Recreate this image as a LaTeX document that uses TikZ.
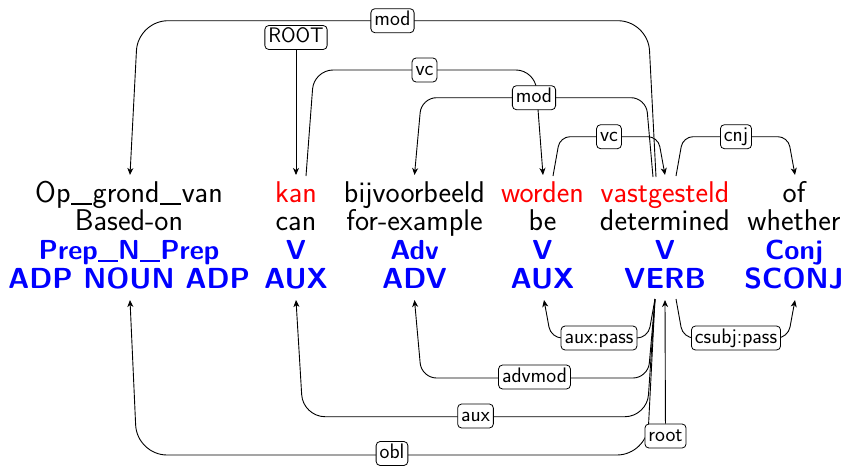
\documentclass[tikz,border=0pt]{standalone}
\usetikzlibrary{arrows.meta}
\definecolor{wred}{RGB}{255,0,0}
\definecolor{wblue}{RGB}{0,0,255}
\newcommand\usc{\kern0.02em\rule[-0.1em]{0.7em}{0.075em}\kern0.02em}
\begin{document}
\begin{tikzpicture}[x=1pt,y=-1pt,
  rowa/.style={font=\sffamily\fontsize{30}{31}\selectfont, inner sep=0pt, anchor=base},
  rowb/.style={font=\sffamily\fontsize{30}{31}\selectfont, inner sep=0pt, anchor=base},
  rowc/.style={font=\sffamily\bfseries\fontsize{27.5}{29}\selectfont, text=wblue, inner sep=0pt, anchor=base},
  rowd/.style={font=\sffamily\bfseries\fontsize{29}{31}\selectfont, text=wblue, inner sep=0pt, anchor=base},
  edge/.style={draw, line width=0.9pt},
  arr/.style={-{Stealth[length=7pt,width=6pt,inset=2pt]}},
  lab/.style={draw, fill=white, rounded corners=4pt, line width=0.8pt,
    font=\sffamily\fontsize{21}{23}\selectfont, inner xsep=3.5pt, inner ysep=2.5pt,
    text height=14.5pt, text depth=4.5pt}]
\useasboundingbox (0,0) rectangle (847,466);

% words
\node[rowa] (op1) at (129,202) {Op\usc grond\usc van};
\node[rowb] (op2) at (129,230.5) {Based-on};
\node[rowc] (op3) at (129,259) {Prep\usc N\usc Prep};
\node[rowd] (op4) at (129,288) {ADP NOUN ADP};

\node[rowa, text=wred] (kan1) at (296,202) {kan};
\node[rowb] (kan2) at (296,230.5) {can};
\node[rowc] (kan3) at (296,259) {V};
\node[rowd] (kan4) at (296,288) {AUX};

\node[rowa] (bij1) at (414.5,202) {bijvoorbeeld};
\node[rowb] (bij2) at (414.5,230.5) {for-example};
\node[rowc] (bij3) at (414.5,259) {Adv};
\node[rowd] (bij4) at (414.5,288) {ADV};

\node[rowa, text=wred] (wor1) at (542.5,202) {worden};
\node[rowb] (wor2) at (542.5,230.5) {be};
\node[rowc] (wor3) at (542.5,259) {V};
\node[rowd] (wor4) at (542.5,288) {AUX};

\node[rowa, text=wred] (vas1) at (665,202) {vastgesteld};
\node[rowb] (vas2) at (665,230.5) {determined};
\node[rowc] (vas3) at (665,259) {V};
\node[rowd] (vas4) at (665,288) {VERB};

\node[rowa] (of1) at (794,202) {of};
\node[rowb] (of2) at (794,230.5) {whether};
\node[rowc] (of3) at (794,259) {Conj};
\node[rowd] (of4) at (794,288) {SCONJ};

% anchor points above / below the words
\coordinate (opT) at (130,175);
\coordinate (kanT) at (296,175);
\coordinate (kanS) at (306,176);
\coordinate (bijT) at (414.5,175);
\coordinate (worT) at (543,175);
\coordinate (worS) at (553,176);
\coordinate (vasT) at (665,175);
\coordinate (vasSa) at (656,177);
\coordinate (vasSb) at (653,177);
\coordinate (vasSr) at (676,176);
\coordinate (ofT) at (795,175);

\coordinate (opB) at (130,300);
\coordinate (kanB) at (296,300);
\coordinate (bijB) at (414.5,300);
\coordinate (worB) at (544,300);
\coordinate (vasB) at (665,300);
\coordinate (vasBl) at (655,299);
\coordinate (vasBr) at (676,299);
\coordinate (ofB) at (795,300);

% top edges
\draw[edge,arr,rounded corners=30pt] (vasSa) -- (648,20.7) -- (138,20.7) -- (opT);
\draw[edge,arr,rounded corners=19pt] (kanS) -- (314,70) -- (535,70) -- (worT);
\draw[edge,arr,rounded corners=15pt] (vasSb) -- (646,97.7) -- (421.5,97.7) -- (bijT);
\draw[edge,arr,rounded corners=10pt] (worS) -- (560,136.7) -- (658,136.7) -- (vasT);
\draw[edge,arr,rounded corners=10pt] (vasSr) -- (683,136.7) -- (788,136.7) -- (ofT);

% bottom edges
\draw[edge,arr,rounded corners=11pt] (vasBl) -- (648,338) -- (551,338) -- (worB);
\draw[edge,arr,rounded corners=11pt] (vasBr) -- (683,338) -- (788,338) -- (ofB);
\draw[edge,arr,rounded corners=15pt] (vasBl) -- (648,378) -- (421.5,378) -- (bijB);
\draw[edge,arr,rounded corners=22pt] (vasBl) -- (647,416.7) -- (303,416.7) -- (kanB);
\draw[edge,arr,rounded corners=30pt] (vasBl) -- (647,455) -- (137,455) -- (opB);

% labels
\node[lab] (lmodA) at (392.5,20.7) {mod};
\node[lab] (lROOT) at (296,37.5) {ROOT};
\node[lab] (lvcA) at (424.5,70) {vc};
\node[lab] (lmodB) at (534,97.7) {mod};
\node[lab] (lvcB) at (609,136.7) {vc};
\node[lab] (lcnj) at (736,136.7) {cnj};
\node[lab] (lauxpass) at (599,338) {aux:pass};
\node[lab] (lcsubj) at (736,338) {csubj:pass};
\node[lab] (ladvmod) at (534.5,377) {advmod};
\node[lab] (laux) at (475.5,416) {aux};
\node[lab] (lobl) at (392,453.5) {obl};
\node[lab] (lroot) at (665.5,436) {root};

\draw[edge,arr] (lROOT) -- (kanT);
\draw[edge,arr] (lroot) -- (vasB);
\end{tikzpicture}
\end{document}
